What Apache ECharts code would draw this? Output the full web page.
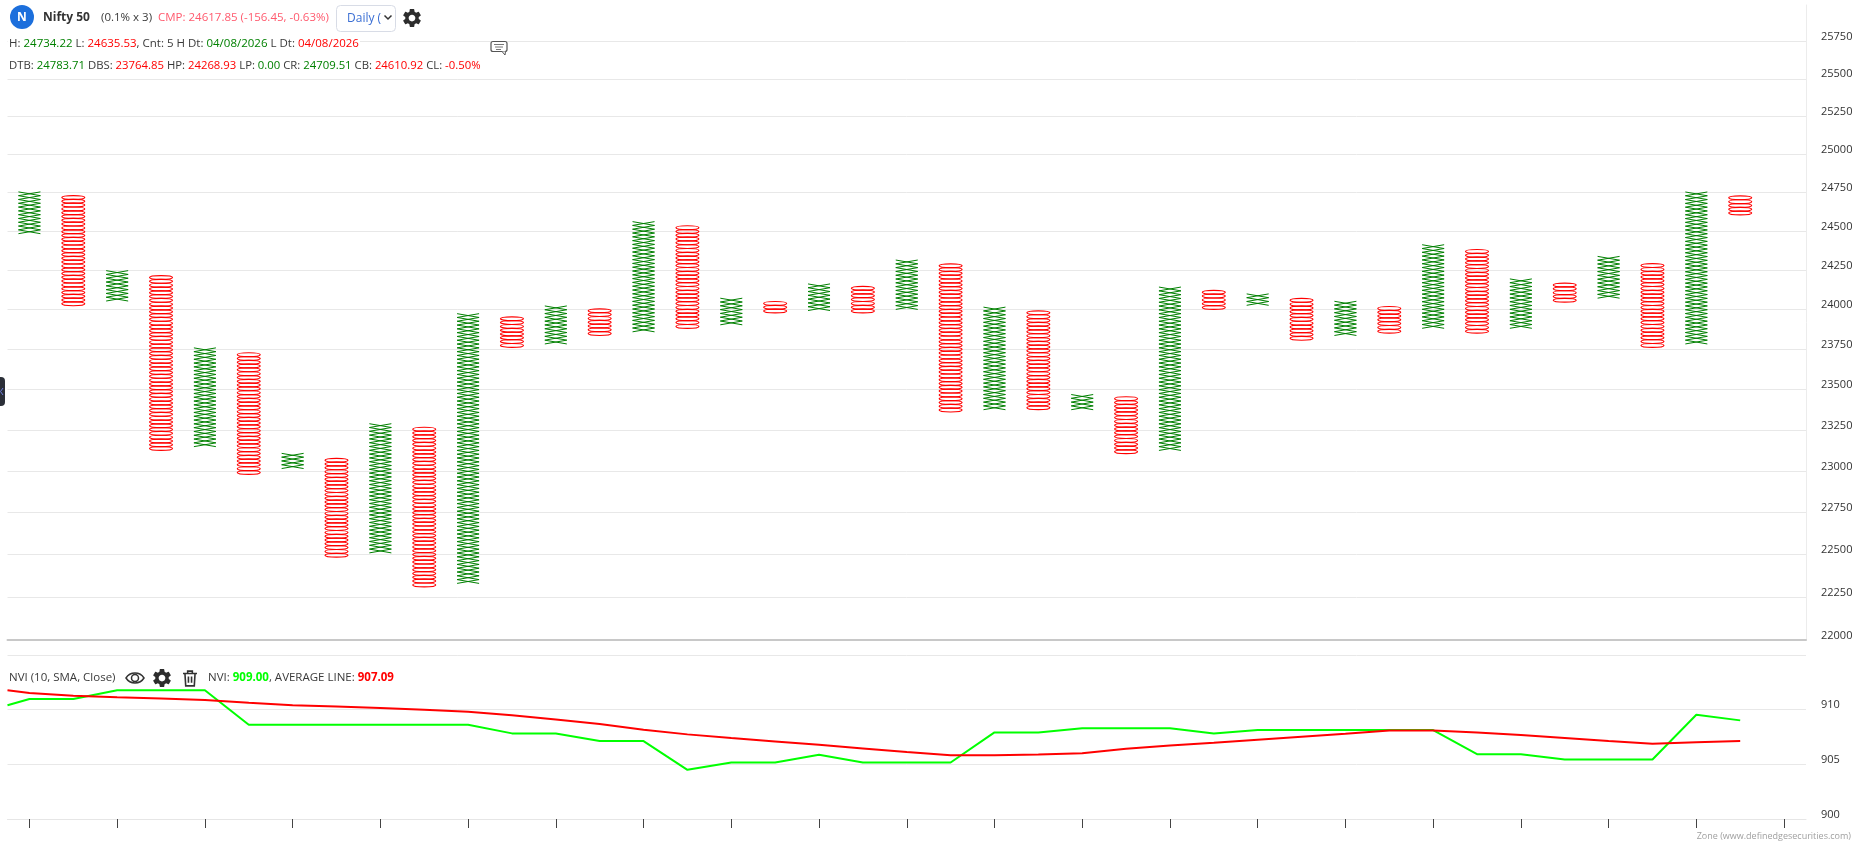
<!DOCTYPE html>
<html>
<head>
<meta charset="utf-8">
<style>html,body{margin:0;padding:0;background:#fff}#c{width:1861px;height:855px}</style>
<script src="https://cdn.jsdelivr.net/npm/echarts@6/dist/echarts.min.js"></script>
</head>
<body>
<div id="c"></div>
<script>
const colKinds = ['X','O','X','O','X','O','X','O','X','O','X','O','X','O','X','O','X','O','X','O','X','O','X','O','X','O','X','O','X','O','X','O','X','O','X','O','X','O','X','O'];
const colHigh = [24758,24734,24245,24219,23757,23728,23105,23075,23286,23265,23977,23954,24022,23994,24571,24541,24075,24052,24158,24135,24311,24295,24022,23999,23477,23455,24150,24113,24105,24075,24045,24022,24417,24387,24204,24173,24326,24295,24743,24727];
const colLow  = [24482,24022,24052,23125,23148,22980,23015,22485,22510,22310,22330,23761,23782,23835,23858,23880,23902,23977,23992,23977,23999,23360,23374,23374,23374,23105,23125,23999,24025,23805,23835,23850,23880,23850,23880,24045,24070,23761,23782,24603];
const boxRatio = 1.001;

const lineX = [-0.5,0,1,2,3,4,5,6,7,8,9,10,11,12,13,14,15,16,17,18,19,20,21,22,23,24,25,26,27,28,29,30,31,32,33,34,35,36,37,38,39];
const nviValues = [910.40,910.98,910.98,911.77,911.77,911.77,908.62,908.62,908.62,908.62,908.62,908.62,907.83,907.83,907.13,907.13,904.50,905.17,905.17,905.87,905.17,905.17,905.17,907.92,907.92,908.29,908.29,908.29,907.83,908.13,908.13,908.13,908.13,908.13,905.93,905.93,905.44,905.44,905.44,909.54,909.02];
const avgValues = [911.77,911.53,911.28,911.13,911.01,910.89,910.64,910.40,910.28,910.15,910.00,909.82,909.48,909.11,908.69,908.17,907.74,907.40,907.09,906.79,906.45,906.12,905.84,905.84,905.89,906.02,906.42,906.73,906.97,907.25,907.52,907.80,908.10,908.10,907.92,907.68,907.40,907.13,906.88,907.03,907.13];

const priceTicks = [22000,22250,22500,22750,23000,23250,23500,23750,24000,24250,24500,24750,25000,25250,25500,25750];
const xTicks = [0,2,4,6,8,10,12,14,16,18,20,22,24,26,28,30,32,34,36,38,40];

const FONT = '"Open Sans", "Noto Sans", sans-serif';
const DARK = '#3a3a3a', GREEN = '#008000', RED = '#ff0000';

const gearPath = 'M19.14 12.94c.04-.3.06-.61.06-.94 0-.32-.02-.64-.07-.94l2.03-1.58a.49.49 0 0 0 .12-.61l-1.92-3.32a.488.488 0 0 0-.59-.22l-2.39.96c-.5-.38-1.03-.7-1.62-.94l-.36-2.54a.484.484 0 0 0-.48-.41h-3.84c-.24 0-.43.17-.47.41l-.36 2.54c-.59.24-1.13.57-1.62.94l-2.39-.96c-.22-.08-.47 0-.59.22L2.74 8.87c-.12.21-.08.47.12.61l2.03 1.58c-.05.3-.09.63-.09.94s.02.64.07.94l-2.03 1.58a.49.49 0 0 0-.12.61l1.92 3.32c.12.22.37.29.59.22l2.39-.96c.5.38 1.03.7 1.62.94l.36 2.54c.05.24.24.41.48.41h3.84c.24 0 .44-.17.47-.41l.36-2.54c.59-.24 1.13-.56 1.62-.94l2.39.96c.22.08.47 0 .59-.22l1.92-3.32c.12-.22.07-.47-.12-.61l-2.01-1.58zM12 15.6c-1.98 0-3.6-1.62-3.6-3.6s1.62-3.6 3.6-3.6 3.6 1.62 3.6 3.6-1.62 3.6-3.6 3.6z';

function pfItem(params, api) {
  const i = api.value(0), lo = api.value(1), hi = api.value(2);
  const kind = colKinds[params.dataIndex];
  const n = Math.round(Math.log(hi / lo) / Math.log(boxRatio));
  const cx = api.coord([i, lo])[0];
  const hw = kind === 'X' ? 11 : 11.5;
  const children = [];
  for (let k = 0; k < n; k++) {
    const y0 = api.coord([i, lo * Math.pow(boxRatio, k)])[1];
    const y1 = api.coord([i, lo * Math.pow(boxRatio, k + 1)])[1];
    if (kind === 'X') {
      children.push({type:'line',shape:{x1:cx-hw,y1:y0,x2:cx+hw,y2:y1},style:{stroke:GREEN,lineWidth:1,fill:null}});
      children.push({type:'line',shape:{x1:cx-hw,y1:y1,x2:cx+hw,y2:y0},style:{stroke:GREEN,lineWidth:1,fill:null}});
    } else {
      children.push({type:'ellipse',shape:{cx:cx,cy:(y0+y1)/2,rx:hw,ry:(y0-y1)/2},style:{stroke:RED,lineWidth:1.2,fill:null}});
    }
  }
  return {type:'group',children:children};
}

function iconItem() {
  return {type:'group',children:[
    {type:'path',shape:{pathData:gearPath,layout:'center',x:403,y:9,width:18,height:18},style:{fill:'#2d2d2d'}},
    {type:'path',shape:{pathData:'M1 12C6 4 18 4 23 12C18 20 6 20 1 12Z',layout:'center',x:126,y:671,width:18,height:14},style:{fill:null,stroke:'#333',lineWidth:1.5}},
    {type:'path',shape:{pathData:gearPath,layout:'center',x:153,y:669,width:18,height:18},style:{fill:'#2d2d2d'}},
    {type:'path',shape:{pathData:'M3 6h18M9 6V3h6v3M5.5 6l1 16h11l1-16M10 10v8M14 10v8',layout:'center',x:183,y:670,width:14,height:17},style:{fill:null,stroke:'#333',lineWidth:1.6}}
  ]};
}

function richText(x, y, text, rich, size) {
  return {type:'text',x:x,y:y,silent:true,style:{text:text,rich:rich,fontFamily:FONT,fontSize:size||11.5,fill:DARK,verticalAlign:'middle',align:'left'}};
}
function makeRich(sz) {
  return {
    d:{fill:'#3a3a3a',fontFamily:FONT,fontSize:sz},
    g:{fill:GREEN,fontFamily:FONT,fontSize:sz},
    r:{fill:RED,fontFamily:FONT,fontSize:sz},
    c:{fill:'#ff5a6e',fontFamily:FONT,fontSize:sz},
    b:{fill:'#333',fontFamily:FONT,fontSize:12,fontWeight:'bold'},
    G:{fill:'#00ff00',fontFamily:FONT,fontSize:sz,fontWeight:'bold'},
    R:{fill:RED,fontFamily:FONT,fontSize:sz,fontWeight:'bold'}
  };
}
const rs = makeRich(11.5), rs3 = makeRich(11.33);

const graphics = [
  {type:'circle',shape:{cx:22,cy:17,r:12},style:{fill:'#1c6fdc'},silent:true},
  {type:'text',x:22,y:18,silent:true,style:{text:'N',fill:'#fff',fontFamily:FONT,fontSize:12,fontWeight:'bold',align:'center',verticalAlign:'middle'}},
  richText(43,18,'{b|Nifty 50}',rs),
  richText(101,18,'{d|(0.1% x 3)}',rs),
  richText(158,18,'{c|CMP: 24617.85 (-156.45, -0.63%)}',rs),
  {type:'rect',shape:{x:336.5,y:5.5,width:59,height:26,r:4},style:{fill:'#fff',stroke:'#d8dce6',lineWidth:1},silent:true},
  {type:'text',x:347,y:19,silent:true,style:{text:'Daily (',fill:'#3b6fd4',fontFamily:FONT,fontSize:12,verticalAlign:'middle'}},
  {type:'polyline',shape:{points:[[384.5,15.5],[388,19],[391.5,15.5]]},style:{stroke:'#333',lineWidth:1.5,fill:null},silent:true},
  {type:'rect',shape:{x:8,y:37,width:352,height:14},style:{fill:'#fff'},silent:true},
  richText(9,44,'{d|H: }{g|24734.22}{d| L: }{r|24635.53}{d|, Cnt: 5 H Dt: }{g|04/08/2026}{d| L Dt: }{r|04/08/2026}',rs),
  richText(9,65.5,'{d|DTB: }{g|24783.71}{d| DBS: }{r|23764.85}{d| HP: }{r|24268.93}{d| LP: }{g|0.00}{d| CR: }{g|24709.51}{d| CB: }{r|24610.92}{d| CL: }{r|-0.50%}',rs3),
  {type:'rect',shape:{x:491,y:41.5,width:16,height:10,r:2},style:{fill:'#fff',stroke:'#555',lineWidth:1.2},silent:true},
  {type:'polyline',shape:{points:[[502,51.5],[505,55],[505.5,51.5]]},style:{stroke:'#555',lineWidth:1,fill:'#fff'},silent:true},
  {type:'line',shape:{x1:494,y1:44.5,x2:504,y2:44.5},style:{stroke:'#777',lineWidth:1},silent:true},
  {type:'line',shape:{x1:495,y1:47,x2:503,y2:47},style:{stroke:'#777',lineWidth:1},silent:true},
  {type:'line',shape:{x1:496,y1:49.5,x2:501,y2:49.5},style:{stroke:'#777',lineWidth:1},silent:true},
  richText(9,678,'{d|NVI (10, SMA, Close)}',rs),
  {type:'circle',shape:{cx:135,cy:678,r:3.5},style:{fill:null,stroke:'#333',lineWidth:1.5},silent:true},
  richText(208,678,'{d|NVI: }{G|909.00}{d|, AVERAGE LINE: }{R|907.09}',rs),
  {type:'rect',shape:{x:-6,y:377,width:11,height:29,r:4},style:{fill:'#2b2f38'},silent:true},
  {type:'polyline',shape:{points:[[3,388],[0.5,391.5],[3,395]]},style:{stroke:'#7080e0',lineWidth:1,fill:null},silent:true},
  {type:'text',x:1851,y:836,silent:true,style:{text:'Zone (www.definedgesecurities.com)',fill:'#a0a0a0',fontFamily:FONT,fontSize:9,align:'right',verticalAlign:'middle'}}
].map(g => Object.assign({z:100}, g));

const option = {
  animation:false,
  backgroundColor:'#fff',
  graphic:{elements:graphics},
  grid:[
    {left:7.5,right:55,top:5,height:635},
    {left:7.5,right:55,top:655,height:164}
  ],
  xAxis:[
    {type:'value',gridIndex:0,min:-0.5,max:40.5,axisLine:{show:true,onZero:false,lineStyle:{color:'#c8c8c8',width:2}},axisTick:{show:false},axisLabel:{show:false},splitLine:{show:false}},
    {type:'value',gridIndex:1,min:-0.5,max:40.5,axisLine:{show:true,onZero:false,lineStyle:{color:'#e6e6e6',width:1}},axisTick:{show:true,customValues:xTicks,length:9,inside:false,lineStyle:{color:'#444',width:1}},axisLabel:{show:false},splitLine:{show:false}}
  ],
  yAxis:[
    {type:'log',logBase:10,gridIndex:0,position:'right',min:22000,max:26000,
      axisLine:{show:true,onZero:false,lineStyle:{color:'#ececec',width:1}},axisTick:{show:false,customValues:priceTicks},
      axisLabel:{show:true,customValues:priceTicks,margin:15,align:'left',verticalAlign:'bottom',padding:[0,0,-1,0],color:'#333',fontFamily:FONT,fontSize:11,formatter:v=>String(Math.round(v))},
      splitLine:{show:true,lineStyle:{color:'#e8e8e8',width:1}}},
    {type:'value',gridIndex:1,position:'right',min:900,max:915,interval:5,
      axisLine:{show:false},axisTick:{show:false},
      axisLabel:{show:true,margin:15,align:'left',verticalAlign:'bottom',padding:[0,0,-1,0],color:'#333',fontFamily:FONT,fontSize:11,formatter:v=>v>=915?'':String(v)},
      splitLine:{show:true,lineStyle:{color:'#e8e8e8',width:1}}}
  ],
  series:[
    {type:'custom',xAxisIndex:0,yAxisIndex:0,renderItem:pfItem,clip:true,encode:{x:0,y:[1,2]},
      data:colHigh.map((h,i)=>[i,colLow[i],h])},
    {type:'line',name:'NVI',xAxisIndex:1,yAxisIndex:1,showSymbol:false,lineStyle:{color:'#00ff00',width:2},itemStyle:{color:'#00ff00'},data:lineX.map((x,i)=>[x,nviValues[i]])},
    {type:'line',name:'AVERAGE LINE',xAxisIndex:1,yAxisIndex:1,showSymbol:false,lineStyle:{color:'#ff0000',width:2},itemStyle:{color:'#ff0000'},data:lineX.map((x,i)=>[x,avgValues[i]])},
    {type:'custom',coordinateSystem:'none',silent:true,renderItem:iconItem,data:[[0]]}
  ]
};
echarts.init(document.getElementById('c')).setOption(option);
</script>
</body>
</html>
